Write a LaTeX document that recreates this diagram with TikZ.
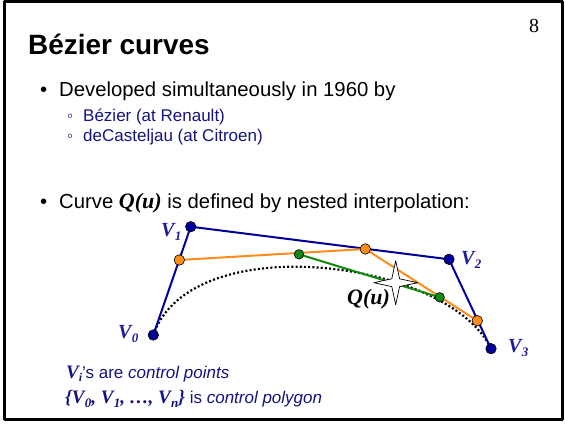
\documentclass[tikz,border=0pt]{standalone}
\usepackage{fontspec}
\setmainfont{Liberation Sans}
\newfontfamily\tms{Liberation Serif}
\usetikzlibrary{shapes.geometric}
\definecolor{ctlblue}{HTML}{000099}
\definecolor{labblue}{HTML}{1C1C9C}
\definecolor{subblue}{HTML}{14147F}
\definecolor{lvlorange}{HTML}{FF8C1A}
\definecolor{lvlgreen}{HTML}{0E8A0E}
\newcommand{\Vsub}[1]{V\kern0.3pt\raisebox{-4pt}{\fontsize{13}{13}\selectfont #1}}
\newcommand{\ttlfont}{\fontsize{27.9}{32}\selectfont\bfseries}
\newcommand{\bodyfont}{\fontsize{20.3}{24}\selectfont}
\newcommand{\subfont}{\fontsize{17}{20}\selectfont}
\newcommand{\tmsbi}{\tms\bfseries\itshape}

\begin{document}
\begin{tikzpicture}[
  x=1pt, y=-1pt, line cap=round, line join=round,
  frm/.style={draw=black, line width=2.6pt, line cap=butt},
  pt/.style={circle, draw=black, line width=0.6pt, minimum size=10.5pt, inner sep=0pt},
  ctl/.style={pt, fill=ctlblue},
  lvone/.style={pt, fill=lvlorange},
  lvtwo/.style={pt, fill=lvlgreen, minimum size=9.5pt},
  poly/.style={ctlblue, line width=2pt},
  segone/.style={lvlorange, line width=2pt},
  segtwo/.style={lvlgreen, line width=2pt},
  crv/.style={black, line width=2.2pt, line cap=butt, dash pattern=on 2pt off 2.2pt},
  txt/.style={anchor=base west, inner sep=0pt},
  lbl/.style={txt, text=labblue, font=\tmsbi\fontsize{20}{24}\selectfont},
  subtxt/.style={txt, text=subblue, font=\subfont}]

\useasboundingbox (0,0) rectangle (565,425);
\draw[frm] (4.5,1.5) rectangle (562.5,419.5);

% heading and bullets
\node[txt, font=\ttlfont] (title) at (28,55) {Bézier curves};
\node[txt, font=\tms\fontsize{20}{24}\selectfont] (pnum) at (529,33) {8};

\node[txt, font=\bodyfont] (b1) at (40,97) {•};
\node[txt, font=\bodyfont] (t1) at (59,97) {Developed simultaneously in 1960 by};
\node[subtxt] (b1a) at (67,122) {◦};
\node[subtxt] (t1a) at (83,122) {Bézier (at Renault)};
\node[subtxt] (b1b) at (67,142) {◦};
\node[subtxt] (t1b) at (83,142) {deCasteljau (at Citroen)};

\node[txt, font=\bodyfont] (b2) at (40,208) {•};
\node[txt, font=\bodyfont] (t2) at (59,208)
  {Curve {\tmsbi\fontsize{22}{24}\selectfont Q(u)} is defined by nested interpolation:};

% control polygon and the two interpolation levels
\coordinate (v0) at (153.3,335);
\coordinate (v1) at (190.7,226.7);
\coordinate (v2) at (449,259.3);
\coordinate (v3) at (491,348.7);
\coordinate (o1) at (179.3,260);
\coordinate (o2) at (365.3,249);
\coordinate (o3) at (477.3,320.7);
\coordinate (g1) at (299,254.3);
\coordinate (g2) at (439.7,297.3);

\draw[crv] (v0) .. controls (v1) and (v2) .. (v3);
\draw[poly] (v0) -- (v1) -- (v2) -- (v3);
\draw[segone] (o1) -- (o2) -- (o3);
\draw[segtwo] (g1) -- (g2);

\foreach \p in {v0,v1,v2,v3} \node[ctl] at (\p) {};
\foreach \p in {o1,o2,o3} \node[lvone] at (\p) {};
\foreach \p in {g1,g2} \node[lvtwo] at (\p) {};

\node[star, star points=4, star point ratio=4, draw=black, fill=white,
      line width=0.7pt, minimum size=44pt, inner sep=0pt] (q) at (395.7,282.7) {};
\node[txt, font=\tmsbi\fontsize{22}{24}\selectfont] (qlbl) at (347,304) {Q(u)};

\node[lbl] (l0) at (118,338) {\Vsub{0}};
\node[lbl] (l1) at (161,236) {\Vsub{1}};
\node[lbl] (l2) at (461,264) {\Vsub{2}};
\node[lbl] (l3) at (508,352) {\Vsub{3}};

% notes
\node[subtxt] (n1) at (66,378)
  {{\tmsbi\fontsize{19}{20}\selectfont V\raisebox{-3pt}{\fontsize{12}{12}\selectfont i}}’s are \textit{control points}};
\node[subtxt] (n2) at (65,403)
  {{\tmsbi\fontsize{19}{20}\selectfont \{\Vsub{0}, \Vsub{1}, …, \Vsub{n}\}} is \textit{control polygon}};

\end{tikzpicture}
\end{document}
